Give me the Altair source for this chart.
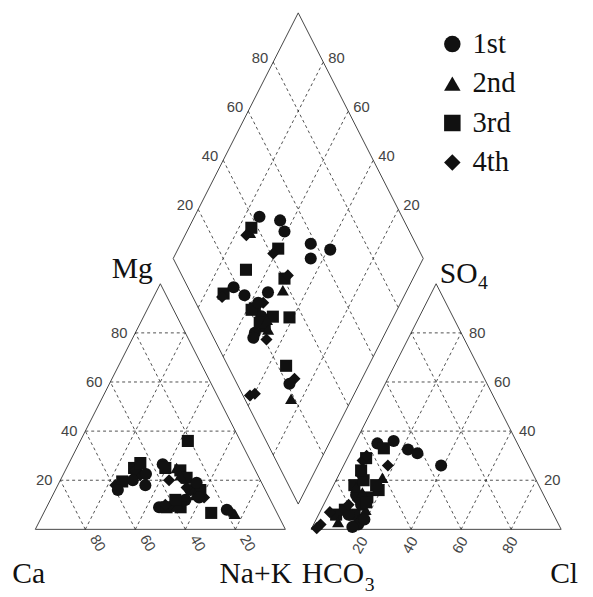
import altair as alt
import pandas as pd

# ---------------- data ----------------
periods = ["1st", "2nd", "3rd", "4th"]
shapes = ["circle", "triangle-up", "square", "diamond"]
ticks = [20, 40, 60, 80]

# cation triangle: Mg %, Na+K %
cat_period = ["3rd", "4th", "3rd", "1st", "3rd", "3rd", "4th", "4th", "1st", "1st",
              "3rd", "4th", "2nd", "3rd", "1st", "3rd", "1st", "3rd", "4th", "1st",
              "3rd", "1st", "3rd", "1st", "2nd", "3rd", "1st", "4th", "2nd", "2nd",
              "1st", "4th", "1st", "3rd", "4th", "1st", "2nd", "3rd", "1st"]
cat_mg = [36, 18, 19.5, 16, 25, 23, 22, 24, 18, 26.5,
          25, 20, 25, 24, 21, 21, 16, 16, 13, 12,
          9, 9, 9, 9.5, 10, 6.7, 8, 7, 6.3, 14,
          13, 17, 22.5, 12, 10, 19, 22, 27, 20]
cat_nak = [43, 23, 25, 25, 27, 29, 31, 28, 35, 37.7,
           39.5, 43.5, 44, 46, 48.7, 50, 54, 58, 61, 54,
           53.6, 45, 48, 50.5, 52, 67, 72.6, 74.7, 76.6, 57,
           59, 52, 33, 50, 47, 55, 47, 28.5, 29]

# anion triangle: SO4 %, Cl %
an_period = ["1st", "1st", "1st", "1st", "1st", "3rd", "4th", "3rd", "4th", "2nd",
             "3rd", "3rd", "4th", "3rd", "1st", "1st", "2nd", "3rd", "3rd", "2nd",
             "4th", "4th", "4th", "4th", "3rd", "1st", "3rd", "1st", "4th", "1st",
             "2nd", "3rd", "1st", "4th", "3rd", "1st", "3rd", "2nd"]
an_so4 = [26, 32.5, 31, 36, 35, 33, 28, 29, 26, 21,
          16, 18, 12, 6, 4, 2, 8, 13, 6, 3,
          2, 0.5, 7, 30, 8, 4, 18, 10, 22, 14,
          15, 20, 6, 10, 24, 1, 11, 17]
an_cl = [39, 22.5, 27, 15, 9, 12.6, 6.6, 7.5, 17.7, 18,
         19, 8.3, 12.7, 14.4, 18.7, 17.8, 17.8, 16, 7, 9.3,
         2.8, 2, 4, 7.2, 9.5, 19.3, 17, 15, 9, 11,
         13, 11, 12, 10, 8, 16, 16.5, 9.5]

# diamond: Na+K %, SO4+Cl %
dia_period = ["1st", "1st", "1st", "2nd", "3rd", "4th", "3rd", "4th", "1st", "1st",
              "1st", "3rd", "3rd", "4th", "2nd", "3rd", "4th", "1st", "1st", "1st",
              "3rd", "1st", "3rd", "3rd", "3rd", "1st", "1st", "2nd", "4th", "3rd",
              "4th", "1st", "4th", "4th", "2nd", "3rd", "3rd", "4th", "2nd", "1st"]
dia_nak = [26, 35, 39, 25.5, 25, 24.5, 40, 39, 52, 55,
           61, 31.4, 48.6, 49.3, 50.3, 27.3, 27.4, 30, 36, 44.8,
           42.8, 47, 51.7, 58.5, 50.4, 47.8, 48.2, 52.4, 53.8, 67,
           73, 72, 58.6, 60.2, 75.7, 41.8, 47.7, 45, 50, 43]
dia_so4cl = [43, 50.5, 50, 36, 37.5, 34, 44, 41, 58, 55,
             64.6, 26.8, 40.4, 42.4, 37.4, 13, 11.7, 18.3, 21, 31,
             22.5, 23.5, 28, 34.5, 22.8, 17.5, 15.9, 23.5, 20.8, 23.3,
             24, 21, 2.8, 5.1, 18.6, 20.9, 21.5, 27, 25, 25]

# ---------------- geometry ----------------
G = 0.103  # gap between the two triangles (fraction of a side)


def left_xy(mg, nak):
    return nak + mg / 2.0, mg


def right_xy(so4, cl):
    return 1 + G + cl + so4 / 2.0, so4


def dia_xy(p, q):
    return (p + q - 1) / 2.0 + 1 + G / 2.0, G + 1 - p + q


rows = []
for per, mg, nk in zip(cat_period, cat_mg, cat_nak):
    x, y = left_xy(mg / 100, nk / 100)
    rows.append(dict(x=x, y=y, period=per))
for per, s, c in zip(an_period, an_so4, an_cl):
    x, y = right_xy(s / 100, c / 100)
    rows.append(dict(x=x, y=y, period=per))
for per, p, q in zip(dia_period, dia_nak, dia_so4cl):
    x, y = dia_xy(p / 100, q / 100)
    rows.append(dict(x=x, y=y, period=per))
pts = pd.DataFrame(rows)

# frames
frame = []
for ox in (0, 1 + G):
    frame += [(ox, 0, ox + 1, 0), (ox + 1, 0, ox + 0.5, 1), (ox + 0.5, 1, ox, 0)]
b = (1 + G / 2, G)
l = (0.5 + G / 2, 1 + G)
t = (1 + G / 2, 2 + G)
r = (1.5 + G / 2, 1 + G)
frame += [(*b, *l), (*l, *t), (*t, *r), (*r, *b)]
frame_df = pd.DataFrame(frame, columns=["x", "y", "x2", "y2"])

# grid lines
grid = []
for tv in ticks:
    v = tv / 100
    for ox in (0, 1 + G):
        grid.append((ox + v / 2, v, ox + 1 - v / 2, v))
        grid.append((ox + v, 0, ox + v + (1 - v) / 2, 1 - v))
        grid.append((ox + 1 - v, 0, ox + (1 - v) / 2, 1 - v))
    a = dia_xy(v, 0); c = dia_xy(v, 1)
    grid.append((*a, *c))
    a = dia_xy(0, v); c = dia_xy(1, v)
    grid.append((*a, *c))
grid_df = pd.DataFrame(grid, columns=["x", "y", "x2", "y2"])

# tick label tables
lab_mg = pd.DataFrame([dict(x=tv / 200, y=tv / 100, t=str(tv)) for tv in ticks])
lab_ca = pd.DataFrame([dict(x=1 - tv / 100, y=0, t=str(tv)) for tv in ticks])
lab_cl = pd.DataFrame([dict(x=1 + G + tv / 100, y=0, t=str(tv)) for tv in ticks])
lab_so4 = pd.DataFrame([dict(x=1 + G + (1 - tv / 100) + tv / 200, y=tv / 100, t=str(tv)) for tv in ticks])
lab_dl = pd.DataFrame([dict(x=dia_xy(0, tv / 100)[0], y=dia_xy(0, tv / 100)[1], t=str(tv)) for tv in ticks])
lab_dr = pd.DataFrame([dict(x=dia_xy(1 - tv / 100, 1)[0], y=dia_xy(1 - tv / 100, 1)[1], t=str(tv)) for tv in ticks])

# ---------------- scales ----------------
W, H = 585, 589
SX, SY = 253.5, 249.0
XMIN = -27.7 / SX
XMAX = XMIN + W / SX
YMAX = 524.5 / SY
YMIN = YMAX - H / SY
xs = alt.Scale(domain=[XMIN, XMAX], nice=False, zero=False)
ys = alt.Scale(domain=[YMIN, YMAX], nice=False, zero=False)

SERIF = "Times New Roman, Liberation Serif, DejaVu Serif, serif"


def X(f="x"):
    return alt.X(f"{f}:Q", scale=xs, axis=None)


def Y(f="y"):
    return alt.Y(f"{f}:Q", scale=ys, axis=None)


frame_layer = alt.Chart(frame_df).mark_rule(color="#444444", strokeWidth=1).encode(
    x=X(), y=Y(), x2="x2:Q", y2="y2:Q")
grid_layer = alt.Chart(grid_df).mark_rule(color="#222222", strokeWidth=0.8, strokeDash=[3, 3]).encode(
    x=X(), y=Y(), x2="x2:Q", y2="y2:Q")

TICKFONT = dict(font="Liberation Sans", fontSize=15, color="#444444")


def tlayer(df, **kw):
    return alt.Chart(df).mark_text(**TICKFONT, **kw).encode(x=X(), y=Y(), text="t:N")


tick_layers = [
    tlayer(lab_mg, align="right", baseline="middle", dx=-8),
    tlayer(lab_ca, align="left", baseline="middle", angle=60, dx=10, dy=-4),
    tlayer(lab_cl, align="right", baseline="middle", angle=300, dx=-6, dy=7),
    tlayer(lab_so4, align="left", baseline="middle", dx=8),
    tlayer(lab_dl, align="right", baseline="middle", dx=-5, dy=-4),
    tlayer(lab_dr, align="left", baseline="middle", dx=5, dy=-4),
]

# corner names
names = pd.DataFrame([
    dict(x=0, y=0, t="Ca", dx=-6.7, dy=54.5, fs=30, al="center"),
    dict(x=1, y=0, t="Na+K", dx=-30, dy=54.5, fs=30, al="center"),
    dict(x=1 + G, y=0, t="HCO", dx=-9.5, dy=54.5, fs=30, al="left"),
    dict(x=1 + G, y=0, t="3", dx=54.5, dy=62.5, fs=20, al="left"),
    dict(x=2 + G, y=0, t="Cl", dx=3, dy=54.5, fs=30, al="center"),
    dict(x=0.5, y=1, t="Mg", dx=-28.5, dy=-5.5, fs=30, al="center"),
    dict(x=1.5 + G, y=1, t="SO", dx=3.8, dy=-0.5, fs=30, al="left"),
    dict(x=1.5 + G, y=1, t="4", dx=42.5, dy=5, fs=20, al="left"),
])
name_layers = []
for _, rw in names.iterrows():
    name_layers.append(
        alt.Chart(pd.DataFrame([rw])).mark_text(
            font=SERIF, fontSize=int(rw.fs), color="#111111",
            align=rw.al, baseline="alphabetic", dx=float(rw.dx), dy=float(rw.dy)
        ).encode(x=X(), y=Y(), text="t:N"))

points = alt.Chart(pts).mark_point(filled=True, color="#111111", opacity=1, size=150).encode(
    x=X(), y=Y(),
    shape=alt.Shape("period:N", scale=alt.Scale(domain=periods, range=shapes),
                    legend=alt.Legend(orient="none", legendX=436, legendY=18, title=None,
                                      labelFont=SERIF, labelFontSize=29,
                                      labelColor="#111111", symbolSize=280,
                                      symbolFillColor="#111111", symbolStrokeColor="#111111",
                                      symbolStrokeWidth=0, rowPadding=10, labelOffset=6,
                                      padding=0)),
)

chart = alt.layer(frame_layer, grid_layer, *tick_layers, *name_layers, points).properties(
    width=W, height=H, padding=0, autosize="none"
).configure_view(stroke=None)

chart.save("out.html", embed_options={"renderer": "svg", "actions": False})
